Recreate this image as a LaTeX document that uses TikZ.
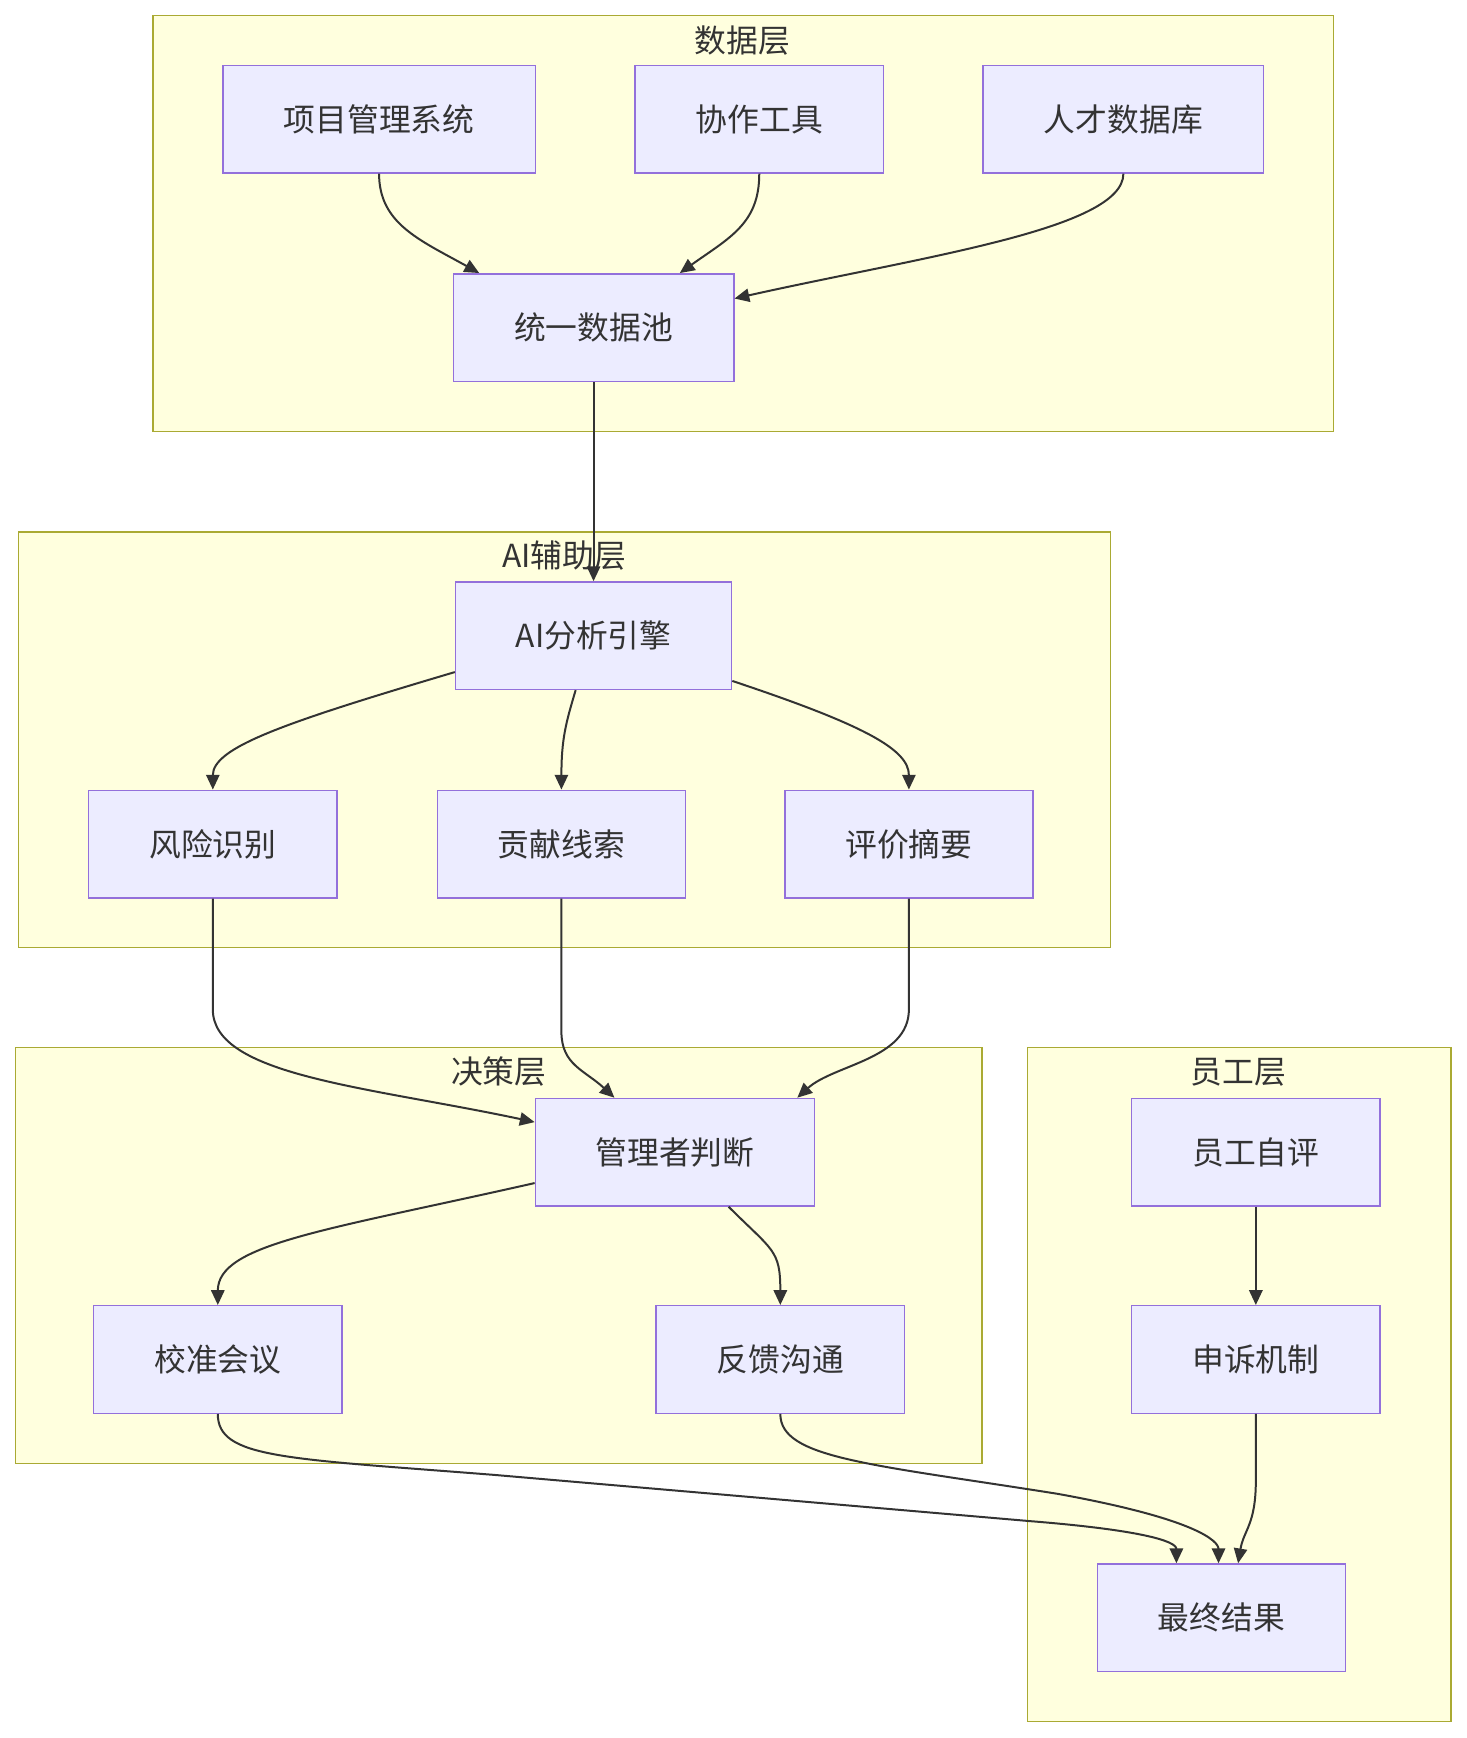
\documentclass[tikz,border=0pt]{standalone}
\usepackage{fontspec}
\newfontfamily\cjk{Noto Sans CJK SC}
\usetikzlibrary{arrows.meta,calc}
\definecolor{clfill}{HTML}{FFFFDE}
\definecolor{cldraw}{HTML}{AAAA33}
\definecolor{ndfill}{HTML}{ECECFF}
\definecolor{nddraw}{HTML}{9370DB}
\definecolor{txt}{HTML}{333333}
\tikzset{
  x=0.75pt, y=-0.75pt,
  cluster/.style={fill=clfill, draw=cldraw, line width=0.8pt},
  cltitle/.style={text=txt, font=\cjk\fontsize{21.5}{25}\selectfont, inner sep=0pt},
  box/.style={fill=ndfill, draw=nddraw, line width=1pt, text=txt,
    font=\cjk\fontsize{21.5}{25}\selectfont, minimum height=72.75pt, inner sep=0pt},
  w224/.style={minimum width=168pt},
  w253/.style={minimum width=189.75pt},
  edge/.style={draw=txt, line width=1.35pt, -{Triangle[length=10pt,width=9pt]}},
}
\begin{document}
\begin{tikzpicture}
\useasboundingbox[fill=white] (0,0) rectangle (1323,1568);
% clusters
\draw[cluster] (138,14) rectangle (1203,389);
\node[cltitle] (t1) at (670,37) {数据层};
\draw[cluster] (17,480) rectangle (1002,855);
\node[cltitle] (t2) at (509,501) {AI辅助层};
\draw[cluster] (14,945) rectangle (886,1320);
\node[cltitle] (t3) at (450,967) {决策层};
\draw[cluster] (927,945) rectangle (1309,1553);
\node[cltitle] (t4) at (1117,967) {员工层};
% nodes
\node[box, minimum width=211.5pt] (p1) at (342,107.5) {项目管理系统};
\node[box, w224] (p2) at (685,107.5) {协作工具};
\node[box, w253] (p3) at (1013.5,107.5) {人才数据库};
\node[box, w253] (pool) at (535.5,295.5) {统一数据池};
\node[box, minimum width=186.75pt] (ai) at (535.5,573.5) {AI分析引擎};
\node[box, w224] (r1) at (192,761.5) {风险识别};
\node[box, w224] (r2) at (506.5,761.5) {贡献线索};
\node[box, w224] (r3) at (820,761.5) {评价摘要};
\node[box, minimum width=189pt] (mg) at (609,1039.5) {管理者判断};
\node[box, w224] (cal) at (196.5,1226.5) {校准会议};
\node[box, w224] (fb) at (704,1226.5) {反馈沟通};
\node[box, w224] (se) at (1133,1039.5) {员工自评};
\node[box, w224] (ap) at (1133,1226.5) {申诉机制};
\node[box, w224] (fin) at (1102,1459.5) {最终结果};
% edges
\draw[edge] (p1.south) .. controls ($(p1.south)+(0,45)$) and ($(pool.north west)+(-30,-30)$) .. ($(pool.north west)+(24,0)$);
\draw[edge] (p2.south) .. controls ($(p2.south)+(0,45)$) and ($(pool.north west)+(250,-32)$) .. ($(pool.north west)+(205,0)$);
\draw[edge] (p3.south) .. controls ($(p3.south)+(0,50)$) and ($(pool.north east)+(170,-15)$) .. ($(pool.north east)+(0,23)$);
\draw[edge] (pool.south) -- (ai.north);
\draw[edge] ($(ai.north west)+(0,82)$) .. controls ($(ai.north west)+(-155,128)$) and ($(r1.north)+(0,-38)$) .. (r1.north);
\draw[edge] ($(ai.south west)+(109,0)$) .. controls ($(ai.south west)+(100,30)$) and ($(r2.north)+(0,-45)$) .. (r2.north);
\draw[edge] ($(ai.north east)+(0,90)$) .. controls ($(ai.north east)+(120,130)$) and ($(r3.north)+(0,-36)$) .. (r3.north);
\draw[edge] (r1.south) -- ($(r1.south)+(0,100)$) .. controls ($(r1.south)+(0,160)$) and ($(mg.north west)+(-150,-10)$) .. ($(mg.north west)+(0,22)$);
\draw[edge] (r2.south) -- ($(r2.south)+(0,120)$) .. controls ($(r2.south)+(0,150)$) and ($(mg.north west)+(45,-25)$) .. ($(mg.north west)+(72,0)$);
\draw[edge] (r3.south) -- ($(r3.south)+(0,100)$) .. controls ($(r3.south)+(0,145)$) and ($(mg.north west)+(270,-30)$) .. ($(mg.north west)+(237,0)$);
\draw[edge] ($(mg.north west)+(0,77)$) .. controls ($(mg.north west)+(-190,120)$) and ($(cal.north)+(0,-55)$) .. (cal.north);
\draw[edge] ($(mg.south west)+(175,0)$) .. controls ($(mg.south west)+(215,40)$) and ($(fb.north)+(0,-50)$) .. (fb.north);
\draw[edge] (cal.south) .. controls ($(cal.south)+(0,40)$) and ($(cal.south)+(60,40)$) .. ($(cal.south)+(250,55)$) -- ($(fin.north west)+(-60,-38)$) .. controls ($(fin.north west)+(40,-30)$) and ($(fin.north west)+(72,-20)$) .. ($(fin.north west)+(72,0)$);
\draw[edge] (fb.south) .. controls ($(fb.south)+(0,40)$) and ($(fb.south)+(80,45)$) .. ($(fb.south)+(250,72)$) .. controls ($(fin.north west)+(90,-40)$) and ($(fin.north west)+(110,-20)$) .. ($(fin.north west)+(110,0)$);
\draw[edge] (se.south) -- (ap.north);
\draw[edge] (ap.south) -- ($(ap.south)+(0,60)$) .. controls ($(ap.south)+(0,100)$) and ($(fin.north)+(20,-30)$) .. ($(fin.north)+(15,0)$);
\end{tikzpicture}
\end{document}
